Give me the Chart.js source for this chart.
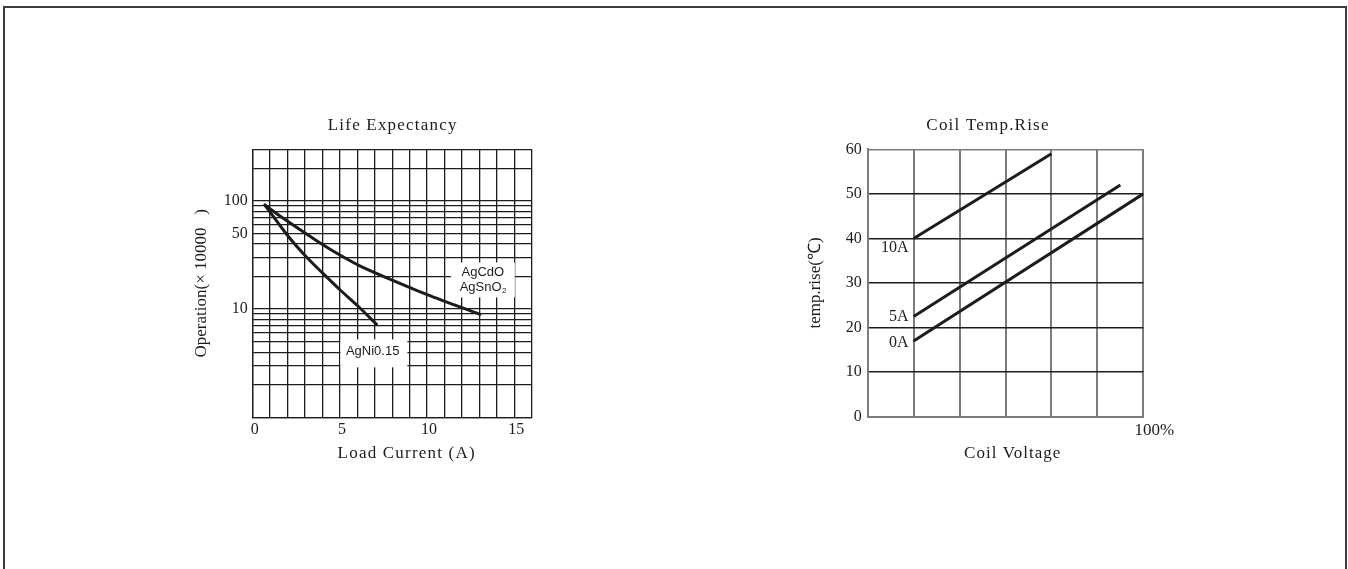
<!DOCTYPE html>
<html>
<head>
<meta charset="utf-8">
<title>Life Expectancy / Coil Temp.Rise</title>
<script src="https://cdn.jsdelivr.net/npm/chart.js@4.4.1/dist/chart.umd.min.js"></script>
<style>
  html, body { margin: 0; padding: 0; background: #fff; }
  body { width: 1348px; height: 569px; overflow: hidden; position: relative; }
  .frame { position: absolute; left: 3px; top: 6px; width: 1340px; height: 620px; border: 2px solid #3c3c3c; border-bottom: none; }
  canvas { position: absolute; }
  #lifeChart { left: 160px; top: 100px; }
  #coilChart { left: 780px; top: 100px; }
</style>
</head>
<body>
<div class="frame"></div>
<canvas id="lifeChart" width="400" height="380"></canvas>
<canvas id="coilChart" width="420" height="380"></canvas>

<script>
// ===== DATA =====

// Life Expectancy: load current (A) vs operations (x 10000)
var currentCdO = [0.7, 1.75, 3, 4, 5, 6.2, 8, 10, 13.03];       // AgCdO / AgSnO2
var opsCdO     = [91.6, 69, 50.5, 39.5, 31.6, 24.8, 18.5, 13.6, 8.95];
var currentNi  = [0.7, 2, 3, 4, 5, 6, 7.1];                      // AgNi0.15
var opsNi      = [91.6, 47.9, 31.3, 21.6, 15.1, 10.8, 7.25];

var lifeXTicks  = [0, 1, 2, 3, 4, 5, 6, 7, 8, 9, 10, 11, 12, 13, 14, 15, 16];
var lifeXLabels = [0, 5, 10, 15];
var lifeYTicks  = [1, 2, 3, 4, 5, 6, 7, 8, 9, 10, 20, 30, 40, 50, 60, 70, 80, 90, 100, 200, 300];
var lifeYLabels = [10, 50, 100];

// Coil Temp.Rise: coil voltage (grid divisions, 6 = 100%) vs temp rise (C)
var voltage10A = [1, 4];
var rise10A    = [40, 59];
var voltage5A  = [1, 5.5];
var rise5A     = [22.5, 52];
var voltage0A  = [1, 6];
var rise0A     = [17, 50];

var coilXTicks = [0, 1, 2, 3, 4, 5, 6];
var coilYTicks = [0, 10, 20, 30, 40, 50, 60];

// ===== HELPERS =====
var serif = '"Liberation Serif", "Times New Roman", serif';
var sans  = '"Liberation Sans", Arial, sans-serif';
var ink   = '#1c1c1c';
var gray  = '#7c7c7c';

function toPoints(xs, ys) {
  return xs.map(function(x, i) { return { x: x, y: ys[i] }; });
}

function fixedTicks(values) {
  return function(scale) { scale.ticks = values.map(function(v) { return { value: v }; }); };
}

// white boxes behind notes + free text (titles, notes)
var captions = {
  id: 'captions',
  beforeDatasetsDraw: function(chart, args, opts) {
    var ctx = chart.ctx;
    (opts.boxes || []).forEach(function(b) {
      var x = chart.scales.x.getPixelForValue(b.x);
      var y = chart.scales.y.getPixelForValue(b.y);
      ctx.save();
      ctx.fillStyle = '#fff';
      ctx.fillRect(x - b.w / 2, y - b.h / 2, b.w, b.h);
      ctx.restore();
    });
  },
  afterDatasetsDraw: function(chart, args, opts) {
    var ctx = chart.ctx;
    (opts.items || []).forEach(function(it) {
      var x = it.x, y = it.y;
      if (it.data) {
        x = chart.scales.x.getPixelForValue(it.x);
        y = chart.scales.y.getPixelForValue(it.y);
      }
      x += it.dx || 0;
      y += it.dy || 0;
      ctx.save();
      ctx.fillStyle = ink;
      ctx.textBaseline = 'middle';
      ctx.letterSpacing = it.spacing || '0px';
      ctx.font = it.font;
      if (it.sub) {
        var w1 = ctx.measureText(it.text).width;
        ctx.font = it.font.replace(/\d+px/, '8px');
        var w2 = ctx.measureText(it.sub).width;
        var left = x - (w1 + w2) / 2;
        ctx.textAlign = 'left';
        ctx.fillText(it.sub, left + w1 + 0.5, y + 4);
        ctx.font = it.font;
        ctx.fillText(it.text, left, y);
      } else {
        ctx.textAlign = it.align || 'center';
        ctx.fillText(it.text, x, y);
      }
      ctx.restore();
    });
  }
};

// ===== LIFE EXPECTANCY =====
new Chart(document.getElementById('lifeChart'), {
  type: 'line',
  data: {
    datasets: [
      { label: 'AgCdO / AgSnO2', data: toPoints(currentCdO, opsCdO) },
      { label: 'AgNi0.15', data: toPoints(currentNi, opsNi) }
    ]
  },
  options: {
    responsive: false,
    animation: false,
    layout: { padding: { top: 49.3, right: 28.3, left: 0, bottom: 0 } },
    elements: {
      line: { borderColor: ink, borderWidth: 3, tension: 0.3, fill: false, borderCapStyle: 'round' },
      point: { radius: 0 }
    },
    plugins: {
      legend: { display: false },
      tooltip: { enabled: false },
      captions: {
        boxes: [
          { x: 13.2, y: 18.6, w: 64, h: 35 },
          { x: 6.95, y: 3.9, w: 67, h: 28 }
        ],
        items: [
          { text: 'Life Expectancy', x: 232.7, y: 26, font: '17px ' + serif, spacing: '1.2px' },
          { text: 'Load Current (A)', x: 246.7, y: 353.3, font: '17px ' + serif, spacing: '1.2px' },
          { text: 'AgCdO', data: true, x: 13.2, y: 18.6, dy: -7.5, font: '13px ' + sans },
          { text: 'AgSnO', sub: '2', data: true, x: 13.2, y: 18.6, dy: 7, font: '13px ' + sans },
          { text: 'AgNi0.15', data: true, x: 6.88, y: 4.08, font: '13px ' + sans }
        ]
      }
    },
    scales: {
      x: {
        type: 'linear', min: 0, max: 16,
        afterBuildTicks: fixedTicks(lifeXTicks),
        afterFit: function(scale) { scale.height = 62.7; },
        grid: { color: ink, lineWidth: 1.3, drawTicks: false },
        border: { color: ink, width: 1.3 },
        ticks: {
          autoSkip: false, maxRotation: 0, padding: 2.5, labelOffset: 2,
          color: ink, font: { family: serif, size: 16 },
          callback: function(v) { return lifeXLabels.indexOf(v) >= 0 ? String(v) : ''; }
        }
      },
      y: {
        type: 'logarithmic', min: 1, max: 300,
        afterBuildTicks: fixedTicks(lifeYTicks),
        afterFit: function(scale) { scale.width = 92.7; },
        grid: { color: ink, lineWidth: 1.3, drawTicks: false },
        border: { color: ink, width: 1.3 },
        ticks: {
          autoSkip: false, padding: 5,
          color: ink, font: { family: serif, size: 16 },
          callback: function(v) { return lifeYLabels.indexOf(v) >= 0 ? String(v) : ''; }
        },
        title: {
          display: true, text: 'Operation(\u00d7 10000\u2002 )',
          color: ink, font: { family: serif, size: 17 },
          padding: { top: 31.5, bottom: 0 }
        }
      }
    }
  },
  plugins: [captions]
});

// ===== COIL TEMP.RISE =====
new Chart(document.getElementById('coilChart'), {
  type: 'line',
  data: {
    datasets: [
      { label: '10A', data: toPoints(voltage10A, rise10A) },
      { label: '5A', data: toPoints(voltage5A, rise5A) },
      { label: '0A', data: toPoints(voltage0A, rise0A) }
    ]
  },
  options: {
    responsive: false,
    animation: false,
    layout: { padding: { top: 49.3, right: 56.7, left: 0, bottom: 0 } },
    elements: {
      line: { borderColor: ink, borderWidth: 3, tension: 0, fill: false },
      point: { radius: 0 }
    },
    plugins: {
      legend: { display: false },
      tooltip: { enabled: false },
      captions: {
        items: [
          { text: 'Coil Temp.Rise', x: 208, y: 26, font: '17px ' + serif, spacing: '1.2px' },
          { text: 'Coil Voltage', x: 232.7, y: 353.3, font: '17px ' + serif, spacing: '1px' },
          { text: '10A', data: true, x: 1, y: 38, dx: -5, align: 'right', font: '16px ' + serif },
          { text: '5A', data: true, x: 1, y: 22.4, dx: -5, align: 'right', font: '16px ' + serif },
          { text: '0A', data: true, x: 1, y: 16.5, dx: -5, align: 'right', font: '16px ' + serif }
        ]
      }
    },
    scales: {
      x: {
        type: 'linear', min: 0, max: 6,
        afterBuildTicks: fixedTicks(coilXTicks),
        afterFit: function(scale) { scale.height = 63.3; },
        grid: { color: gray, lineWidth: 2, drawTicks: false },
        border: { color: gray, width: 2 },
        ticks: {
          autoSkip: false, maxRotation: 0, padding: 4, labelOffset: 11,
          color: ink, font: { family: serif, size: 17 },
          callback: function(v) { return v === 6 ? '100%' : ''; }
        }
      },
      y: {
        type: 'linear', min: 0, max: 60,
        afterBuildTicks: fixedTicks(coilYTicks),
        afterFit: function(scale) { scale.width = 87.7; },
        grid: {
          drawTicks: false, lineWidth: 1.4,
          color: function(c) { return (c.tick && (c.tick.value === 0 || c.tick.value === 60)) ? gray : ink; }
        },
        border: { color: gray, width: 2 },
        ticks: {
          autoSkip: false, padding: 6,
          color: ink, font: { family: serif, size: 16 }
        },
        title: {
          display: true, text: 'temp.rise(\u2103)',
          color: ink, font: { family: serif, size: 17 },
          padding: { top: 25, bottom: 0 }
        }
      }
    }
  },
  plugins: [captions]
});
</script>
</body>
</html>
